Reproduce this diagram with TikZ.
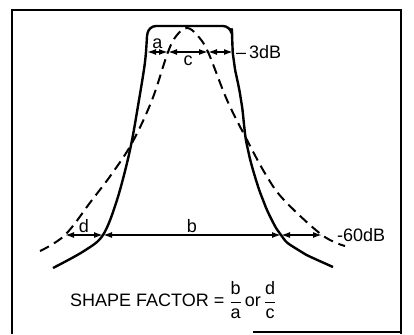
\documentclass[tikz,border=0pt]{standalone}
\usepackage{fontspec}
\setmainfont{Liberation Sans}
\usepackage{amsmath}
\usetikzlibrary{arrows.meta}
\tikzset{
  frame/.style={line width=1.5pt},
  response/.style={line width=2.4pt, line join=round},
  gauss/.style={line width=2pt, dash pattern=on 10pt off 6pt},
  span/.style={line width=1.5pt, {Latex[length=9pt,width=6pt]}-{Latex[length=9pt,width=6pt]}},
  lbl/.style={inner sep=1pt, font=\fontsize{18}{20}\selectfont},
}

\begin{document}
\begin{tikzpicture}[x=1pt,y=-1pt]
    \useasboundingbox (0,0) rectangle (414,334);
    % Frame
    \draw[frame] (12,334) -- (12,10) -- (401,10) -- (401,334);
    \draw[frame] (253,332) -- (401,332);
    % Crossings on the -3dB and -60dB lines
    \coordinate (L3) at (147,52);
    \coordinate (DL3) at (168,52);
    \coordinate (DR3) at (208,52);
    \coordinate (R3) at (233,52);
    \coordinate (DL60) at (65,235);
    \coordinate (L60) at (103,235);
    \coordinate (R60) at (281,235);
    \coordinate (DR60) at (322,235);
    % Crystal filter response (solid)
    \draw[response] plot[smooth, tension=0.55] coordinates {(53,268) (84,251) (L60) (117,200) (130,150) (139,100) (145,62) (147,36)}
      [rounded corners=7pt] -- (149,26) -- (230,26)
      -- plot[smooth, tension=0.55] coordinates {(232,36) (234,62) (241,100) (248,150) (263,200) (R60) (300,251) (333,267)};
    % Gaussian response (dashed)
    \draw[gauss] plot[smooth, tension=0.6] coordinates {(40,251) (DL60) (92,200) (111,175) (132,143) (152,100) (DL3) (177,35) (187,28) (197,35) (DR3) (227,100) (247,140) (266,175) (284,200) (DR60) (345,246)};
    % -3dB widths
    \draw[span] (L3) -- (DL3) node[lbl, midway, above=2pt] (a) {a};
    \draw[span] (DL3) -- (DR3) node[lbl, midway, below=2pt] (c) {c};
    \draw[span] (DR3) -- (R3);
    \node[lbl, anchor=west] (db3) at (235,52) {--\,3dB};
    % -60dB widths
    \draw[span] (DL60) -- (L60) node[lbl, midway, above=1pt] (d) {d};
    \draw[span] (L60) -- (R60) node[lbl, midway, above=1pt] (b) {b};
    \draw[span] (R60) -- (DR60);
    \node[lbl, anchor=west] (db60) at (336,235) {-60dB};
    % Shape factor
    \node[lbl, anchor=west] (sf) at (69,300) {SHAPE FACTOR = $\dfrac{\text{b}}{\text{a}}$\,or\,$\dfrac{\text{d}}{\text{c}}$};
\end{tikzpicture}
\end{document}
